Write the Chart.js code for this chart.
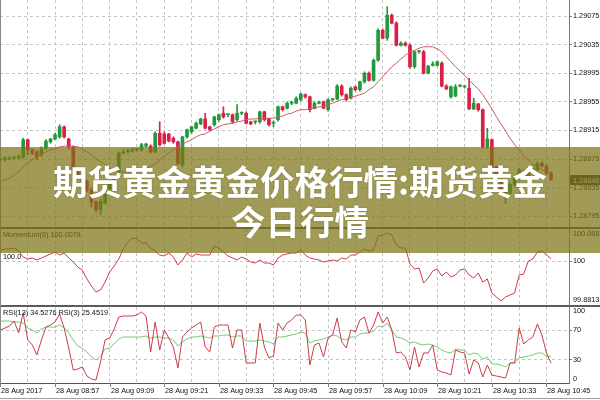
<!DOCTYPE html>
<html><head><meta charset="utf-8">
<script src="https://cdn.jsdelivr.net/npm/chart.js"></script>
<style>
html,body{margin:0;padding:0;background:#fff;width:600px;height:400px;overflow:hidden;}
#wrap{position:relative;width:600px;height:400px;}
canvas{position:absolute;left:0;display:block;}
.ln{position:absolute;}
#banner{position:absolute;left:0;top:147px;width:600px;height:106px;background:rgba(125,116,22,0.72);}
#title{position:absolute;left:0;top:160px;width:600px;text-align:center;color:#fff;font-family:"Noto Sans CJK SC","Noto Sans CJK JP",sans-serif;font-weight:700;font-size:34.5px;line-height:40px;white-space:nowrap;text-shadow:0 0 2px rgba(60,55,10,0.35);}
</style></head>
<body><div id="wrap">
<canvas id="cMain" width="600" height="227" style="top:0"></canvas>
<canvas id="cMom" width="600" height="76" style="top:229px"></canvas>
<canvas id="cRsi" width="600" height="93" style="top:307px"></canvas>
<div class="ln" style="left:0;top:227px;width:600px;height:2px;background:#5c5c5c"></div>
<div class="ln" style="left:0;top:305px;width:600px;height:2px;background:#5c5c5c"></div>
<div class="ln" style="left:0;top:0;width:1px;height:383px;background:#8a8a8a"></div>
<div class="ln" style="left:0;top:398px;width:600px;height:1px;background:#a0a0a0"></div>
<div id="banner"></div>
<div id="title">期货黄金黄金价格行情:期货黄金<br>今日行情</div>
</div>
<script>
// ---------- data ----------
const timeLabels = ["28 Aug 2017","28 Aug 08:57","28 Aug 09:09","28 Aug 09:21","28 Aug 09:33","28 Aug 09:45","28 Aug 09:57","28 Aug 10:09","28 Aug 10:21","28 Aug 10:33","28 Aug 10:45"];
const timeLabelBars = [0,12,24,36,48,60,72,84,96,108,120];
const priceTicks = [1.28795,1.28835,1.28875,1.28915,1.28955,1.28995,1.29035,1.29075];
const momentumTicks = [99.8813,100,100.0885];
const rsiTicks = [0,30,70,100];

const opens = [1.28874,1.28875,1.28875,1.28876,1.28876,1.28878,1.28902,1.28888,1.28885,1.28881,
1.28890,1.28899,1.28903,1.28906,1.28920,1.28903,1.28892,1.28857,1.28850,1.28844,
1.28832,1.28815,1.28804,1.28813,1.28833,1.28841,1.28853,1.28883,1.28885,1.28886,
1.28888,1.28888,1.28893,1.28893,1.28885,1.28911,1.28910,1.28910,1.28904,1.28899,
1.28867,1.28906,1.28913,1.28918,1.28924,1.28931,1.28920,1.28923,1.28930,1.28939,
1.28937,1.28937,1.28930,1.28939,1.28939,1.28927,1.28927,1.28927,1.28941,1.28931,
1.28925,1.28930,1.28948,1.28946,1.28953,1.28953,1.28958,1.28965,1.28962,1.28946,
1.28953,1.28955,1.28944,1.28958,1.28959,1.28977,1.28965,1.28960,1.28976,1.28972,
1.28983,1.28995,1.28985,1.29013,1.29055,1.29044,1.29076,1.29065,1.29034,1.29037,
1.29034,1.29004,1.29025,1.29025,1.28995,1.29006,1.29006,1.29009,1.28977,1.28962,
1.28963,1.28977,1.28976,1.28974,1.28945,1.28952,1.28944,1.28892,1.28902,1.28864,
1.28846,1.28825,1.28827,1.28839,1.28848,1.28857,1.28851,1.28857,1.28860,1.28869,
1.28865,1.28855];
const highs = [1.28876,1.28878,1.28879,1.28879,1.28881,1.28904,1.28903,1.28889,1.28886,1.28892,
1.28902,1.28904,1.28911,1.28923,1.28921,1.28904,1.28893,1.28860,1.28853,1.28846,
1.28833,1.28816,1.28819,1.28836,1.28844,1.28853,1.28885,1.28888,1.28889,1.28890,
1.28890,1.28897,1.28897,1.28895,1.28913,1.28927,1.28913,1.28911,1.28906,1.28900,
1.28907,1.28917,1.28921,1.28927,1.28932,1.28939,1.28921,1.28935,1.28938,1.28948,
1.28938,1.28938,1.28951,1.28941,1.28941,1.28928,1.28928,1.28942,1.28942,1.28932,
1.28928,1.28949,1.28949,1.28955,1.28956,1.28962,1.28967,1.28966,1.28963,1.28955,
1.28956,1.28956,1.28959,1.28959,1.28979,1.28979,1.28966,1.28976,1.28977,1.28984,
1.28997,1.28997,1.29015,1.29057,1.29057,1.29088,1.29078,1.29067,1.29039,1.29039,
1.29036,1.29026,1.29027,1.29027,1.29006,1.29011,1.29012,1.29011,1.28979,1.28977,
1.28979,1.28979,1.28977,1.28988,1.28960,1.28953,1.28945,1.28918,1.28903,1.28865,
1.28847,1.28840,1.28841,1.28851,1.28862,1.28860,1.28858,1.28865,1.28871,1.28871,
1.28867,1.28857];
const lows = [1.28872,1.28872,1.28874,1.28875,1.28875,1.28876,1.28881,1.28881,1.28874,1.28878,
1.28889,1.28897,1.28902,1.28904,1.28904,1.28889,1.28854,1.28847,1.28841,1.28829,
1.28808,1.28801,1.28797,1.28812,1.28832,1.28839,1.28851,1.28882,1.28883,1.28885,
1.28886,1.28886,1.28892,1.28883,1.28883,1.28893,1.28896,1.28899,1.28897,1.28867,
1.28864,1.28904,1.28911,1.28917,1.28923,1.28917,1.28914,1.28921,1.28928,1.28932,
1.28934,1.28925,1.28928,1.28937,1.28924,1.28923,1.28924,1.28925,1.28928,1.28921,
1.28920,1.28928,1.28942,1.28945,1.28951,1.28952,1.28956,1.28960,1.28941,1.28945,
1.28952,1.28945,1.28942,1.28956,1.28958,1.28963,1.28956,1.28959,1.28970,1.28970,
1.28981,1.28984,1.28984,1.29012,1.29043,1.29041,1.29064,1.29033,1.29033,1.29033,
1.29002,1.29002,1.29023,1.28994,1.28994,1.29005,1.29005,1.28976,1.28972,1.28960,
1.28962,1.28976,1.28974,1.28944,1.28944,1.28942,1.28890,1.28890,1.28862,1.28843,
1.28829,1.28813,1.28826,1.28837,1.28847,1.28851,1.28850,1.28855,1.28858,1.28864,
1.28854,1.28845];
const closes = [1.28875,1.28875,1.28876,1.28876,1.28878,1.28902,1.28888,1.28883,1.28878,1.28889,
1.28900,1.28903,1.28909,1.28920,1.28906,1.28892,1.28857,1.28850,1.28844,1.28832,
1.28815,1.28804,1.28816,1.28833,1.28841,1.28851,1.28883,1.28885,1.28886,1.28888,
1.28889,1.28895,1.28896,1.28885,1.28911,1.28895,1.28897,1.28900,1.28899,1.28869,
1.28906,1.28916,1.28920,1.28925,1.28931,1.28918,1.28916,1.28934,1.28937,1.28934,
1.28937,1.28927,1.28939,1.28939,1.28925,1.28924,1.28927,1.28941,1.28930,1.28923,
1.28925,1.28948,1.28944,1.28953,1.28953,1.28960,1.28966,1.28962,1.28944,1.28953,
1.28953,1.28946,1.28958,1.28958,1.28977,1.28965,1.28958,1.28974,1.28972,1.28983,
1.28995,1.28985,1.29013,1.29055,1.29044,1.29076,1.29065,1.29034,1.29037,1.29034,
1.29004,1.29025,1.29025,1.28995,1.29005,1.29008,1.29011,1.28977,1.28973,1.28976,
1.28976,1.28977,1.28976,1.28945,1.28953,1.28944,1.28892,1.28903,1.28864,1.28846,
1.28832,1.28837,1.28839,1.28848,1.28860,1.28853,1.28857,1.28862,1.28869,1.28865,
1.28855,1.28846];
const movingAvg = [1.28843,1.28846,1.28848,1.28853,1.28857,1.28864,1.28869,1.28874,1.28878,1.28882,
1.28885,1.28888,1.28889,1.28892,1.28893,1.28893,1.28893,1.28892,1.28889,1.28885,
1.28881,1.28875,1.28871,1.28867,1.28862,1.28860,1.28858,1.28857,1.28857,1.28857,
1.28858,1.28860,1.28862,1.28865,1.28868,1.28874,1.28879,1.28883,1.28888,1.28892,
1.28896,1.28899,1.28902,1.28906,1.28909,1.28910,1.28914,1.28917,1.28920,1.28923,
1.28924,1.28925,1.28927,1.28928,1.28930,1.28931,1.28931,1.28932,1.28932,1.28932,
1.28932,1.28934,1.28935,1.28938,1.28939,1.28942,1.28944,1.28944,1.28945,1.28946,
1.28948,1.28949,1.28951,1.28953,1.28956,1.28958,1.28959,1.28962,1.28963,1.28965,
1.28967,1.28972,1.28976,1.28983,1.28990,1.28997,1.29004,1.29009,1.29015,1.29020,
1.29025,1.29027,1.29030,1.29032,1.29032,1.29032,1.29029,1.29025,1.29018,1.29011,
1.29004,1.28998,1.28992,1.28985,1.28979,1.28973,1.28965,1.28955,1.28945,1.28934,
1.28924,1.28914,1.28904,1.28895,1.28888,1.28879,1.28874,1.28868,1.28864,1.28860,
1.28857,1.28854];
const momentum = [100.0313,100.0340,100.0340,100.0367,100.0285,100.0122,100.0067,100.0094,100.0040,100.0094,
100.0149,100.0204,100.0258,100.0176,100.0231,100.0094,99.9985,99.9849,99.9767,99.9522,
99.9331,99.9168,99.9222,99.9440,99.9713,99.9876,100.0067,100.0340,100.0531,100.0640,
100.0612,100.0503,100.0503,100.0367,100.0285,100.0176,100.0149,100.0231,100.0122,99.9904,
100.0040,100.0231,100.0122,100.0204,100.0176,100.0176,100.0176,100.0422,100.0367,100.0258,
100.0149,100.0094,100.0040,100.0122,100.0067,99.9985,99.9958,100.0040,99.9958,99.9958,
99.9904,100.0094,100.0176,100.0204,100.0231,100.0231,100.0313,100.0176,100.0094,100.0067,
100.0040,99.9985,100.0013,100.0040,100.0013,100.0094,100.0067,100.0176,100.0176,100.0258,
100.0340,100.0285,100.0313,100.0694,100.0721,100.0776,100.0721,100.0449,100.0367,100.0367,
99.9931,99.9795,99.9822,99.9413,99.9549,99.9740,99.9795,99.9604,99.9713,99.9577,
99.9631,99.9767,99.9795,99.9631,99.9549,99.9686,99.9440,99.9522,99.9140,99.9031,
99.8922,99.9031,99.9086,99.9140,99.9631,99.9658,100.0013,100.0067,100.0258,100.0285,
100.0176,100.0078];
const rsi3 = [70.3,73.0,75.7,82.4,66.2,93.2,56.8,50.0,36.5,56.8,
74.3,77.0,81.1,91.9,73.0,45.9,16.2,17.6,20.3,8.1,
4.1,2.7,27.0,56.8,59.5,71.6,87.8,89.2,89.2,89.2,
90.5,94.6,89.2,40.5,81.1,43.2,70.3,59.5,47.3,18.9,
60.8,67.6,73.0,77.0,81.1,47.3,40.5,74.3,77.0,77.0,
77.0,45.9,70.3,70.3,25.7,25.7,25.7,79.7,47.3,32.4,
35.1,79.7,70.3,79.7,83.8,90.5,90.5,83.8,23.0,50.0,
52.7,33.8,59.5,63.5,86.5,54.1,45.9,70.3,67.6,83.8,
87.8,66.2,77.0,94.6,79.7,87.8,70.3,39.2,40.5,33.8,
16.2,47.3,20.3,39.2,39.2,50.0,16.2,13.5,12.2,9.5,
43.2,40.5,39.2,10.8,29.7,25.7,6.8,23.0,9.5,8.1,
6.8,5.4,25.7,25.7,73.0,51.4,56.8,60.8,78.4,63.5,
39.2,25.4519];
const rsi13 = [82.4,82.4,82.4,81.1,81.1,79.7,73.0,70.3,66.2,71.6,
74.3,74.3,74.3,77.0,73.0,66.2,56.8,48.6,45.9,40.5,
33.8,29.7,35.1,44.6,45.9,51.4,58.1,60.8,60.8,60.8,
60.8,60.8,62.2,59.5,60.8,60.8,59.5,59.5,56.8,48.6,
54.1,58.1,60.8,60.8,62.2,60.8,59.5,62.2,62.2,63.5,
63.5,60.8,62.2,62.2,55.4,55.4,55.4,56.8,55.4,54.1,
51.4,60.8,60.8,62.2,63.5,64.9,67.6,66.2,52.7,55.4,
56.8,58.1,60.8,63.5,62.2,58.1,56.8,60.8,60.8,64.9,
66.2,66.2,68.9,75.7,74.3,79.7,70.3,60.8,59.5,56.8,
52.7,54.1,51.4,50.0,51.4,50.0,47.3,43.2,40.5,39.2,
44.6,43.2,43.2,36.5,39.2,37.8,31.1,33.8,24.3,24.3,
23.0,20.3,25.7,25.7,32.4,33.8,35.1,36.5,39.2,39.2,
35.1,34.5276];

// ---------- styling ----------
const UP = '#22993a', DOWN = '#dc1f48';
const GRID = '#c4c4c4', AXIS = '#7c7c7c', TXT = '#111';
const FONT = '7.3px "Liberation Sans", Arial, sans-serif';
Chart.defaults.font.family = '"Liberation Sans", Arial, sans-serif';
const idx = opens.map((_, i) => i);
const last = closes.length - 1;
const candleColor = c => closes[c.dataIndex] >= opens[c.dataIndex] ? UP : DOWN;

const overlayText = {
  id: 'overlayText',
  afterDraw(chart, args, o) {
    const ctx = chart.ctx, ys = chart.scales.y, xs = chart.scales.x, ca = chart.chartArea;
    ctx.save();
    ctx.font = FONT; ctx.textBaseline = 'middle'; ctx.textAlign = 'left'; ctx.fillStyle = TXT;
    (o.right || []).forEach(r => ctx.fillText(r.text, 573, ys.getPixelForValue(r.value) + (r.dy || 0)));
    (o.notes || []).forEach(n => ctx.fillText(n.text, n.x, n.value !== undefined ? ys.getPixelForValue(n.value) + n.dy : n.y));
    if (o.box) {
      const py = Math.round(ys.getPixelForValue(o.box.value));
      ctx.fillStyle = '#3a3a3a'; ctx.fillRect(570, py - 5, 30, 10);
      ctx.fillStyle = '#fff'; ctx.fillText(o.box.text, 573, py + 0.5);
    }
    if (o.time) {
      ctx.fillStyle = TXT; ctx.strokeStyle = AXIS; ctx.lineWidth = 1;
      o.time.bars.forEach((b, k) => {
        const px = Math.round(xs.getPixelForValue(b));
        ctx.beginPath(); ctx.moveTo(px + 0.5, ca.bottom); ctx.lineTo(px + 0.5, ca.bottom + 4); ctx.stroke();
        ctx.fillText(o.time.labels[k], px + 1, ca.bottom + 7.5);
      });
    }
    ctx.restore();
  }
};

function xScale(borderOn) {
  return {
    type: 'linear', min: -0.1, max: 124.95, offset: false,
    grid: { offset: false, color: GRID, drawTicks: false },
    border: { display: borderOn, color: '#555', dash: [3, 3] },
    ticks: { display: false },
    afterBuildTicks: s => { const t = []; for (let v = 0; v <= 120; v += 6) t.push({ value: v }); s.ticks = t; }
  };
}
function yScale(min, max, gridVals) {
  return {
    type: 'linear', position: 'right', min: min, max: max, beginAtZero: false,
    grid: { color: GRID, drawTicks: true, tickLength: 3, tickColor: AXIS, tickBorderDash: [] },
    border: { display: true, color: AXIS, width: 1, dash: [3, 3] },
    ticks: { display: false },
    afterBuildTicks: s => { s.ticks = gridVals.map(v => ({ value: v })); },
    afterFit: s => { s.width = 31; }
  };
}
const baseOpts = {
  responsive: false, animation: false, devicePixelRatio: 1, events: [],
  plugins: { legend: { display: false }, tooltip: { enabled: false } }
};

// ---------- main price panel ----------
new Chart(document.getElementById('cMain'), {
  type: 'bar',
  data: { datasets: [
    { type: 'bar', data: idx.map(i => ({ x: i, y: [lows[i], highs[i]] })), backgroundColor: candleColor,
      barThickness: 1, grouped: false, borderWidth: 0, minBarLength: 1, order: 2 },
    { type: 'bar', data: idx.map(i => ({ x: i, y: [opens[i], closes[i]] })), backgroundColor: candleColor,
      barThickness: 3, grouped: false, borderWidth: 0, minBarLength: 1, order: 1 },
    { type: 'line', data: idx.map(i => ({ x: i, y: movingAvg[i] })), borderColor: '#cc5a64', borderWidth: 1,
      pointRadius: 0, tension: 0, order: 0 }
  ]},
  options: Object.assign({}, baseOpts, {
    layout: { padding: 0 },
    scales: { x: xScale(false), y: yScale(1.287799, 1.290974, priceTicks) },
    plugins: Object.assign({}, baseOpts.plugins, {
      overlayText: {
        right: priceTicks.map(v => ({ value: v, text: v.toFixed(5) })),
        box: { value: closes[last], text: closes[last].toFixed(5) }
      }
    })
  }),
  plugins: [overlayText]
});

// ---------- momentum panel ----------
new Chart(document.getElementById('cMom'), {
  type: 'line',
  data: { datasets: [
    { data: idx.map(i => ({ x: i, y: momentum[i] })), borderColor: '#c93d48', borderWidth: 1, pointRadius: 0, tension: 0 }
  ]},
  options: Object.assign({}, baseOpts, {
    layout: { padding: 0 },
    scales: { x: xScale(false), y: yScale(momentumTicks[0], momentumTicks[2], [100]) },
    plugins: Object.assign({}, baseOpts.plugins, {
      overlayText: {
        right: [
          { value: momentumTicks[2], text: momentumTicks[2].toFixed(4), dy: 5 },
          { value: momentumTicks[1], text: '100' },
          { value: momentumTicks[0], text: momentumTicks[0].toFixed(4), dy: -5 }
        ],
        notes: [
          { text: 'Momentum(8) ' + momentum[last].toFixed(4), x: 3, y: 5.5 },
          { text: '100.0', x: 3, value: 100, dy: -4.5 }
        ]
      }
    })
  }),
  plugins: [overlayText]
});

// ---------- RSI panel ----------
new Chart(document.getElementById('cRsi'), {
  type: 'line',
  data: { datasets: [
    { data: idx.map(i => ({ x: i, y: rsi3[i] })), borderColor: '#c93d48', borderWidth: 1, pointRadius: 0, tension: 0 },
    { data: idx.map(i => ({ x: i, y: rsi13[i] })), borderColor: '#72cc72', borderWidth: 1, pointRadius: 0, tension: 0 }
  ]},
  options: Object.assign({}, baseOpts, {
    layout: { padding: { bottom: 17 } },
    scales: { x: xScale(true), y: yScale(-1.35, 101.35, [30, 70]) },
    plugins: Object.assign({}, baseOpts.plugins, {
      overlayText: {
        right: [
          { value: rsiTicks[3], text: '100', dy: 3 },
          { value: rsiTicks[2], text: '70' },
          { value: rsiTicks[1], text: '30' },
          { value: rsiTicks[0], text: '0', dy: -3 }
        ],
        notes: [
          { text: 'RSI(13) ' + rsi13[last].toFixed(4) + ' RSI(3) ' + rsi3[last].toFixed(4), x: 3, y: 6 }
        ],
        time: { bars: timeLabelBars, labels: timeLabels }
      }
    })
  }),
  plugins: [overlayText]
});
</script>
</body></html>
